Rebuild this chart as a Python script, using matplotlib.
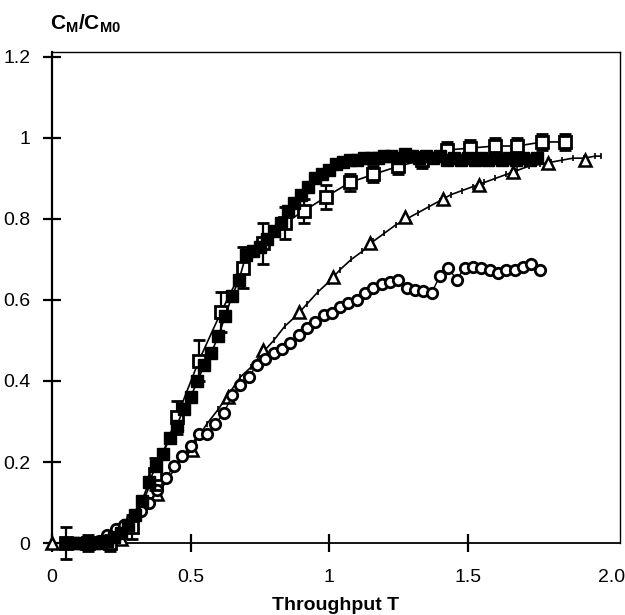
import numpy as np
import matplotlib
matplotlib.use("Agg")
import matplotlib.pyplot as plt

plt.rcParams["font.family"] = ["Liberation Sans", "DejaVu Sans"]
plt.rcParams["mathtext.fontset"] = "custom"
plt.rcParams["mathtext.rm"] = "Liberation Sans"
plt.rcParams["mathtext.bf"] = "Liberation Sans:bold"

# filled squares (dense run)
fill_t = [0.05, 0.075, 0.1, 0.125, 0.15, 0.175, 0.2, 0.225, 0.25, 0.275,
          0.3, 0.325, 0.35, 0.375, 0.4, 0.425, 0.45, 0.475, 0.5, 0.525,
          0.55, 0.575, 0.6, 0.625, 0.65, 0.675, 0.7, 0.725, 0.75, 0.775,
          0.8, 0.825, 0.85, 0.875, 0.9, 0.925, 0.95, 0.975, 1.0, 1.025,
          1.05, 1.075, 1.1, 1.125, 1.15, 1.175, 1.2, 1.225, 1.25, 1.275,
          1.3, 1.325, 1.35, 1.375, 1.4, 1.425, 1.45, 1.475, 1.5, 1.525,
          1.55, 1.575, 1.6, 1.625, 1.65, 1.675, 1.7, 1.725, 1.75]
fill_c = [0, 0, 0, 0, 0, 0, 0.005, 0.015, 0.025, 0.045,
          0.07, 0.105, 0.15, 0.19, 0.22, 0.26, 0.29, 0.33, 0.36, 0.40,
          0.44, 0.47, 0.51, 0.56, 0.61, 0.65, 0.71, 0.72, 0.73, 0.75,
          0.77, 0.79, 0.82, 0.84, 0.86, 0.88, 0.90, 0.91, 0.92, 0.935,
          0.94, 0.945, 0.945, 0.95, 0.95, 0.95, 0.955, 0.955, 0.95, 0.96,
          0.955, 0.95, 0.955, 0.95, 0.955, 0.945, 0.95, 0.945, 0.95, 0.945,
          0.95, 0.945, 0.95, 0.945, 0.95, 0.945, 0.95, 0.945, 0.95]

# open squares with error bars
open_t = [0.05, 0.13, 0.21, 0.29, 0.37, 0.45, 0.53, 0.61, 0.69, 0.76,
          0.84, 0.91, 0.99, 1.075, 1.16, 1.25, 1.335, 1.425, 1.51, 1.6,
          1.68, 1.77, 1.85]
open_c = [0, 0, 0, 0.04, 0.17, 0.31, 0.45, 0.57, 0.68, 0.74,
          0.79, 0.82, 0.855, 0.89, 0.91, 0.93, 0.945, 0.97, 0.975, 0.98,
          0.98, 0.99, 0.99]
open_err = [0.04, 0.02, 0.02, 0.03, 0.04, 0.04, 0.05, 0.05, 0.05, 0.05,
            0.04, 0.03, 0.03, 0.02, 0.02, 0.02, 0.02, 0.02, 0.02, 0.02,
            0.02, 0.02, 0.02]

# triangle run: dense line with tick marks, sparse triangle symbols
line_t = [0.0, 0.04, 0.08, 0.12, 0.16, 0.2, 0.24, 0.28, 0.32, 0.36,
          0.4, 0.44, 0.48, 0.52, 0.56, 0.6, 0.64, 0.68, 0.72, 0.76,
          0.8, 0.84, 0.88, 0.92, 0.96, 1.0, 1.04, 1.08, 1.12, 1.16,
          1.2, 1.24, 1.28, 1.32, 1.36, 1.4, 1.44, 1.48, 1.52, 1.56,
          1.6, 1.64, 1.68, 1.72, 1.76, 1.8, 1.84, 1.88, 1.92, 1.96, 1.98]
line_c = [0, 0, 0, 0, 0, 0.005, 0.02, 0.04, 0.07, 0.10,
          0.14, 0.18, 0.22, 0.255, 0.295, 0.33, 0.37, 0.41, 0.435, 0.47,
          0.50, 0.535, 0.56, 0.59, 0.62, 0.645, 0.675, 0.70, 0.72, 0.745,
          0.765, 0.785, 0.80, 0.815, 0.83, 0.845, 0.86, 0.87, 0.88, 0.89,
          0.90, 0.91, 0.92, 0.93, 0.935, 0.94, 0.945, 0.95, 0.95, 0.955, 0.955]
tri_t = [0.0, 0.125, 0.25, 0.38, 0.505, 0.635, 0.76, 0.89, 1.015, 1.148,
         1.275, 1.41, 1.54, 1.665, 1.79, 1.925]
tri_c = [0, 0, 0.01, 0.12, 0.23, 0.36, 0.476, 0.57, 0.657, 0.74,
         0.805, 0.85, 0.885, 0.917, 0.937, 0.945]

# open circles
circ_t = [0.05, 0.08, 0.11, 0.14, 0.17, 0.2, 0.23, 0.26, 0.29, 0.32,
          0.35, 0.38, 0.41, 0.44, 0.47, 0.5, 0.53, 0.56, 0.59, 0.62,
          0.65, 0.68, 0.71, 0.74, 0.77, 0.8, 0.83, 0.86, 0.89, 0.92,
          0.95, 0.98, 1.01, 1.04, 1.07, 1.1, 1.13, 1.16, 1.19, 1.22,
          1.25, 1.28, 1.31, 1.34, 1.37, 1.4, 1.43, 1.46, 1.49, 1.52,
          1.55, 1.58, 1.61, 1.64, 1.67, 1.7, 1.73, 1.76]
circ_c = [0, 0, 0, 0, 0.005, 0.02, 0.035, 0.045, 0.06, 0.08,
          0.10, 0.13, 0.16, 0.19, 0.215, 0.24, 0.27, 0.27, 0.295, 0.32,
          0.365, 0.39, 0.41, 0.44, 0.455, 0.47, 0.48, 0.495, 0.513, 0.53,
          0.545, 0.563, 0.568, 0.583, 0.593, 0.60, 0.617, 0.63, 0.64, 0.645,
          0.65, 0.63, 0.625, 0.622, 0.617, 0.66, 0.68, 0.65, 0.68, 0.682,
          0.68, 0.674, 0.667, 0.674, 0.674, 0.682, 0.69, 0.674]

fig = plt.figure(figsize=(6.25, 6.15), dpi=100)
ax = fig.add_axes([0.0832, 0.117, 0.9088, 0.7984])

# triangle series
ax.plot(line_t, line_c, color="black", lw=1.2, marker="|", ms=5, mew=1.2,
        clip_on=False, zorder=2)
ax.plot(tri_t, tri_c, ls="none", marker="^", ms=8.5, mfc="white", mec="black",
        mew=1.8, clip_on=False, zorder=3)

# circles
ax.plot(circ_t, circ_c, color="black", lw=1.0, marker="o", ms=7.5, mfc="white",
        mec="black", mew=2.0, clip_on=False, zorder=3)

# open squares with error bars
ax.errorbar(open_t, open_c, yerr=open_err, color="black", lw=1.2, marker="s",
            ms=8.5, mfc="white", mec="black", mew=2.0, capsize=4, elinewidth=1.6,
            capthick=1.6, clip_on=False, zorder=4)

# filled squares
ax.plot(fill_t, fill_c, color="black", lw=1.2, marker="s", ms=9,
        mfc="black", mec="black", clip_on=False, zorder=5)

ax.set_xlim(0, 2.05)
ax.set_ylim(0, 1.212)

ax.set_xticks([0, 0.5, 1, 1.5, 2.02])
ax.set_xticklabels(["0", "0.5", "1", "1.5", "2.0"])
ax.xaxis.get_major_ticks()[-1].tick1line.set_visible(False)
ax.set_yticks([0, 0.2, 0.4, 0.6, 0.8, 1.0, 1.2])
ax.set_yticklabels(["0", "0.2", "0.4", "0.6", "0.8", "1", "1.2"])

ax.tick_params(axis="both", direction="inout", length=13, width=1.6,
               labelsize=14, colors="black")
ax.tick_params(axis="x", pad=12)
ax.tick_params(axis="y", pad=9)

ax.spines["left"].set_linewidth(1.6)
ax.spines["bottom"].set_linewidth(1.3)
ax.spines["top"].set_linewidth(1.0)
ax.spines["right"].set_linewidth(1.0)

fig.text(0.08, 0.962, r"$\mathbf{C}_\mathbf{M}\mathbf{/C}_\mathbf{M0}$",
         fontsize=15, ha="left", va="center")
ax.set_xlabel("Throughput T", fontsize=14, fontweight="bold", labelpad=8)

fig.savefig("out.png", dpi=100)
